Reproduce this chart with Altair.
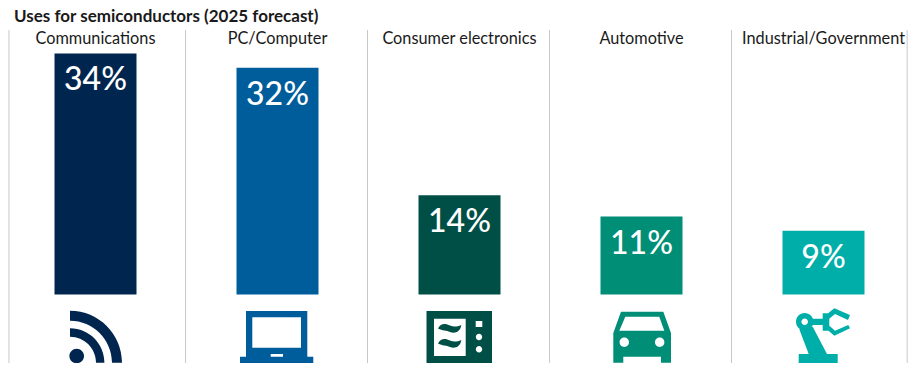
import altair as alt
import pandas as pd

FONT = "Lato"
title_text = ["Uses for semiconductors (2025 forecast)"]
categories = ["Communications", "PC/Computer", "Consumer electronics", "Automotive", "Industrial/Government"]
values = [34, 32, 14, 11, 9]
value_labels = ["34%", "32%", "14%", "11%", "9%"]
colors = ["#00264F", "#005D9B", "#004F47", "#008E77", "#00AEA9"]
panel_edges = [0.03, 1, 2, 3, 4, 4.965]
panel_centres = [0.5055, 1.5055, 2.5055, 3.5055, 4.5055]

# Icon glyphs, drawn as custom point shapes around each panel's centre
icons = [
    "M-25.5 -26.3 A52 52 0 0 1 26.5 25.7 L16.5 25.7 A42 42 0 0 0 -25.5 -16.3 Z "
    "M-25.5 -8.7 A34.4 34.4 0 0 1 8.9 25.7 L0.5 25.7 A26 26 0 0 0 -25.5 -0.3 Z "
    "M-26.1 19 A7.3 7.3 0 1 1 -11.5 19 A7.3 7.3 0 1 1 -26.1 19 Z",
    "M-31.5 -26 H29.8 V19.7 H35.8 V26 H-37.5 V19.7 H-31.5 Z "
    "M-25.2 -19.7 V10.7 H23.5 V-19.7 Z M-6.8 17 V19.7 H5.5 V17 Z",
    "M-33 -26 H32.5 V26 H-33 Z M-25.5 -18.3 V19 H6.2 V-18.3 Z "
    "M-21.5 -8.5 C-19 -14 -14 -14 -9.5 -11.5 C-6 -10 -3 -10 1.8 -12 C1 -5 -5 -3 -9.5 -5 C-13 -7 -17 -6 -21.5 -8.5 Z "
    "M-21.5 6.5 C-19 1 -14 1 -9.5 3.5 C-6 5 -3 5 1.8 3 C1 10 -5 12 -9.5 10 C-13 8 -17 9 -21.5 6.5 Z "
    "M16.2 -16 V-10 H22.8 V-16 Z M16.3 0 A3.2 3.2 0 1 0 22.7 0 A3.2 3.2 0 1 0 16.3 0 Z "
    "M16.3 12.3 A3.2 3.2 0 1 0 22.7 12.3 A3.2 3.2 0 1 0 16.3 12.3 Z",
    "M-20.5 -25.3 H21.8 L29.5 -4 V25.7 H19.5 V19.7 H-18.2 V25.7 H-28.2 V-4 Z "
    "M-16.2 -20.3 L-22.2 -6.3 H22.8 L17.8 -20.3 Z "
    "M-21.9 5.3 A4.7 4.7 0 1 0 -12.5 5.3 A4.7 4.7 0 1 0 -21.9 5.3 Z "
    "M13.5 5.3 A4.7 4.7 0 1 0 22.9 5.3 A4.7 4.7 0 1 0 13.5 5.3 Z",
    "M-24.8 17 H14.2 V26 H-24.8 Z M-24.2 -7.7 L-10.8 -10.3 L3.5 17 H-14.8 Z "
    "M-27.5 -15.3 A8.7 8.7 0 1 1 -10.1 -15.3 A8.7 8.7 0 1 1 -27.5 -15.3 Z "
    "M-22.1 -15.3 A3.3 3.3 0 1 0 -15.5 -15.3 A3.3 3.3 0 1 0 -22.1 -15.3 Z "
    "M-12.8 -18.3 H0.2 V-12 H-12.8 Z M-0.8 -23.7 H5.8 V-6.3 H-0.8 Z "
    "M2.5 -22 L10.8 -28.7 L26.5 -22 L24.5 -17 L11.5 -23 L5.2 -17.7 Z "
    "M6.2 -11 L11.5 -6.3 L24.8 -12 L26.5 -8.7 L10.8 -1.3 L4.2 -7 Z",
]

df = pd.DataFrame({
    "category": categories, "value": values, "label": value_labels,
    "pos": panel_centres, "icon": icons,
})
edges = pd.DataFrame({"edge": panel_edges})
title_df = pd.DataFrame({"title": title_text})

x_scale = alt.Scale(domain=[0.0247, 4.9698], nice=False, zero=False, padding=0)
y_scale = alt.Scale(domain=[-9.66, 40.41], nice=False, zero=False, padding=0)
x = alt.X("pos:Q", scale=x_scale, axis=None)
y = alt.Y("value:Q", scale=y_scale, axis=None)
color = alt.Color("category:N", scale=alt.Scale(domain=categories, range=colors), legend=None)

rules = alt.Chart(edges).mark_rule(color="#C9C9C9", strokeWidth=1).encode(
    x=alt.X("edge:Q", scale=x_scale, axis=None), y=alt.value(22), y2=alt.value(355)
)
bars = alt.Chart(df).mark_bar(size=82, orient="vertical").encode(x=x, y=y, y2=alt.Y2(datum=0), color=color)
value_text = alt.Chart(df).mark_text(
    font=FONT, fontSize=32, fontWeight=500, color="white", baseline="alphabetic", dy=37
).encode(x=x, y=y, text="label:N")
names = alt.Chart(df).mark_text(
    font=FONT, fontSize=16.3, fontWeight=400, color="#1A1A1A", baseline="alphabetic"
).encode(x=x, y=alt.value(35.5), text="category:N")
glyphs = alt.Chart(df).mark_point(filled=True, size=4, opacity=1).encode(
    x=x, y=alt.value(329), shape=alt.Shape("icon:N", scale=None), color=color
)
heading = alt.Chart(title_df).mark_text(
    font=FONT, fontSize=17, fontWeight="bold", color="#1A1A1A", baseline="alphabetic", align="left"
).encode(x=alt.value(6), y=alt.value(13.5), text="title:N")

chart = alt.layer(rules, bars, value_text, names, glyphs, heading).properties(
    width=900,
    height=355,
    padding=0,
    autosize=alt.AutoSizeParams(type="none"),
).configure_view(stroke=None)

chart.save("out.html", embed_options={"renderer": "svg", "actions": False})
